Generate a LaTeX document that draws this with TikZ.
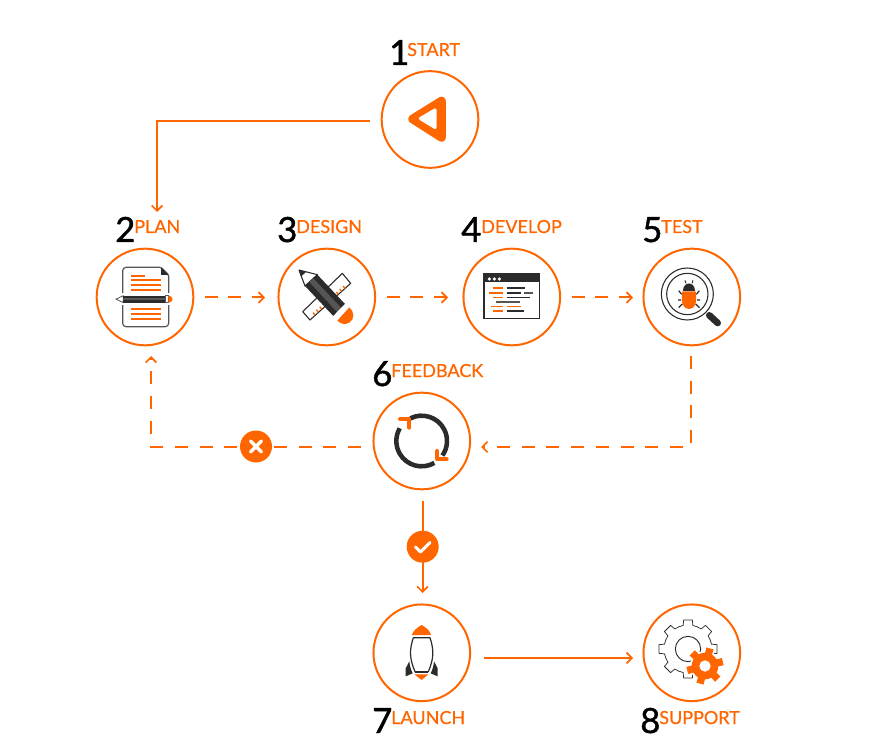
\documentclass[tikz,border=0pt]{standalone}
\usepackage{fontspec}
\setmainfont{Lato}
\newfontfamily\wordfont{Lato}[FakeBold=0.6]
\newfontfamily\numfont{Lato}[FakeBold=1.3]
\usetikzlibrary{arrows.meta}
\definecolor{org}{HTML}{FF6600}
\definecolor{drk}{HTML}{2B2B2B}
\definecolor{mid}{HTML}{555555}
\tikzset{
  px/.style={x=.75pt,y=-.75pt},
  zoomed/.style={x=.25pt,y=-.25pt},
  stepcircle/.style={circle,draw=org,line width=1.5pt,minimum size=72.5pt,inner sep=0pt,fill=white},
  numlbl/.style={anchor=base west,inner sep=0pt,text=black,font=\numfont\fontsize{26}{26}\selectfont},
  wordlbl/.style={anchor=base west,inner sep=0pt,text=org,font=\wordfont\fontsize{13.5}{14}\selectfont},
  solidconn/.style={draw=org,line width=1.5pt,-{Straight Barb[length=4pt,width=8pt,line width=1.3pt]}},
  dashconn/.style={solidconn,dash pattern=on 9.6pt off 8pt},
  dashlong/.style={solidconn,dash pattern=on 9.6pt off 8.96pt},
  badge/.style={circle,fill=org,minimum size=24pt,inner sep=0pt},
  ol/.style={line width=1.6pt,draw=org},
  cl/.style={line width=1pt},
}
\newcommand{\gearshape}[4]{% teeth, rin, rout, rotation
  (#4:#2)
  \foreach \ti in {1,...,#1}{
    -- ({#4+(\ti-1)*360/#1+0.24*360/#1}:#2)
    -- ({#4+(\ti-1)*360/#1+0.31*360/#1}:#3)
    -- ({#4+(\ti-1)*360/#1+0.69*360/#1}:#3)
    -- ({#4+(\ti-1)*360/#1+0.76*360/#1}:#2)
    -- ({#4+\ti*360/#1}:#2)
  } -- cycle
}
\begin{document}
\begin{tikzpicture}[px]
\useasboundingbox (0,0) rectangle (870,748);
\fill[white] (0,0) rectangle (870,748);

% step circles
\node[stepcircle] (start) at (430,119.5) {};
\node[stepcircle] (plan) at (145,297) {};
\node[stepcircle] (design) at (326.8,297) {};
\node[stepcircle] (develop) at (511.8,297) {};
\node[stepcircle] (test) at (691.8,297) {};
\node[stepcircle] (feedback) at (421.8,441) {};
\node[stepcircle] (launch) at (421.8,652.8) {};
\node[stepcircle] (support) at (691.8,652.8) {};

% labels
\node[numlbl] (n1) at (389,65) {1};
\node[wordlbl] (w1) at (407,56) {START};
\node[numlbl] (n2) at (115,242) {2};
\node[wordlbl] (w2) at (134,233) {PLAN};
\node[numlbl] (n3) at (277,242) {3};
\node[wordlbl] (w3) at (296,233) {DESIGN};
\node[numlbl] (n4) at (461,242) {4};
\node[wordlbl] (w4) at (481,233) {DEVELOP};
\node[numlbl] (n5) at (642,242) {5};
\node[wordlbl] (w5) at (661,233) {TEST};
\node[numlbl] (n6) at (372,386) {6};
\node[wordlbl] (w6) at (391,377) {FEEDBACK};
\node[numlbl] (n7) at (372,733) {7};
\node[wordlbl] (w7) at (391,724) {LAUNCH};
\node[numlbl] (n8) at (640,733) {8};
\node[wordlbl] (w8) at (659,724) {SUPPORT};

% connector way points
\coordinate (c1a) at (370,121);
\coordinate (c1b) at (157,121);
\coordinate (c1c) at (157,212);
\coordinate (c2a) at (205,297.5);
\coordinate (c2b) at (265,297.5);
\coordinate (c3a) at (387,297.5);
\coordinate (c3b) at (448,297.5);
\coordinate (c4a) at (572,297.5);
\coordinate (c4b) at (633,297.5);
\coordinate (c5a) at (691,356);
\coordinate (c5b) at (691,447);
\coordinate (c5c) at (481,447);
\coordinate (c6a) at (361,446.5);
\coordinate (c6b) at (151,446.5);
\coordinate (c6c) at (151,356);
\coordinate (c7a) at (422.5,501);
\coordinate (c7b) at (422.5,593);
\coordinate (c8a) at (484,658);
\coordinate (c8b) at (633,658);

\draw[solidconn] (c1a) -- (c1b) -- (c1c);
\draw[dashconn] (c2a) -- (c2b);
\draw[dashconn] (c3a) -- (c3b);
\draw[dashconn] (c4a) -- (c4b);
\draw[dashlong] (c5a) -- (c5b) -- (c5c);
\draw[dashlong] (c6a) -- (c6b) -- (c6c);
\draw[solidconn] (c7a) -- (c7b);
\draw[solidconn] (c8a) -- (c8b);

% badges
\node[badge] (nobadge) at (256,446.5) {};
\draw[white,line width=2.4pt,line cap=round] (250.5,441) -- (261.5,452) (261.5,441) -- (250.5,452);
\node[badge] (okbadge) at (422.7,546.7) {};
\draw[white,line width=2.2pt,line cap=round,line join=round] (415.5,547) -- (420.5,552) -- (430,542.5);

% START icon
\draw[org,fill=org,line width=6.5pt,line join=round] (412.6,119) -- (441.5,101) -- (441.5,137.4) -- cycle;
\draw[white,fill=white,line width=2.4pt,line join=round] (420.5,118.6) -- (435,110) -- (435,127.4) -- cycle;

% PLAN icon
\begin{scope}[shift={(80,200)},zoomed]
  \draw[mid,line width=.9pt,rounded corners=1pt,fill=white] (243,202) -- (134,202) -- (128,208) -- (128,374) -- (134,380) -- (260,380) -- (266,374) -- (266,225) -- cycle;
  \fill[drk] (243,202) -- (266,225) -- (243,225) -- cycle;
  \draw[org,ol] (152,227) -- (196,227);
  \foreach \yy in {241,255,270,327,341,356} \draw[org,ol] (152,\yy) -- (243,\yy);
  \fill[white] (120,280) rectangle (272,316);
  \draw[mid,line width=.6pt,fill=white] (130,287) -- (108,297.5) -- (130,308) -- cycle;
  \fill[drk] (130,287) rectangle (255,308);
  \fill[mid] (130,293) rectangle (255,301);
  \draw[mid,line width=.6pt] (255,287) rectangle (265,308);
  \fill[org] (265,287) arc (-90:90:13 and 10.5) -- cycle;
\end{scope}

% DESIGN icon
\begin{scope}[shift={(80,200)},zoomed]
  \draw[drk,line width=.8pt,fill=white,line join=round] (668,335) -- (690,360) -- (812,250) -- (787,220) -- cycle;
  \foreach \i/\j in {705/345,715/336,725/327}
    \draw[org,line width=1pt] (\i,\j) -- (\i-6,\j-7);
  \foreach \i/\j in {775/283,785/274,795/265}
    \draw[org,line width=1pt] (\i,\j) -- (\i-6,\j-7);
  \draw[drk,line width=.8pt,fill=white,line join=round] (657,210) -- (712,224) -- (675,258) -- cycle;
  \fill[drk] (657,210) -- (678,215.5) -- (663,230) -- cycle;
  \fill[drk] (675,258) -- (712,224) -- (795,312) -- (760,348) -- cycle;
  \fill[mid] (688,246) -- (700,235) -- (783,323) -- (771,336) -- cycle;
  \fill[white] (760,348) -- (795,312) -- (807,322) -- (772,360) -- cycle;
  \fill[org] (772,362) -- (808,322) .. controls (824,335) and (824,358) .. (808,368) .. controls (795,375) and (782,372) .. (772,362) -- cycle;
\end{scope}

% DEVELOP icon
\begin{scope}[shift={(450,200)},zoomed]
  \draw[drk,line width=1pt,fill=white] (102,222) rectangle (268,355);
  \fill[drk] (102,222) rectangle (268,247);
  \foreach \i in {118,133,148} \fill[white] (\i,237) circle (5.5);
  \foreach \a/\b/\yy in {130/160/264,116/160/279,130/160/293,123/160/320,170/212/320,130/160/333}
    \draw[org,cl] (\a,\yy) -- (\b,\yy);
  \foreach \a/\b/\yy in {170/225/264,170/212/279,170/240/293,170/223/333}
    \draw[drk,cl] (\a,\yy) -- (\b,\yy);
  \foreach \a/\b/\yy in {222/250/279,138/210/306}
    \draw[mid,cl] (\a,\yy) -- (\b,\yy);
\end{scope}

% TEST icon
\begin{scope}[shift={(450,200)},zoomed]
  \draw[drk,line width=5pt,line cap=round] (778,346) -- (803,369);
  \draw[drk,line width=.8pt,fill=white] (712,282) circle (78);
  \draw[drk,line width=.8pt] (712,282) circle (62);
  \fill[drk] (699,272) .. controls (699,242) and (735,242) .. (735,272) -- cycle;
  \fill[org] (697,274) -- (737,274) .. controls (742,310) and (735,327) .. (717,327) .. controls (699,327) and (692,310) .. (697,274) -- cycle;
  \draw[drk,line width=.7pt] (708,250) -- (705,241) (726,250) -- (729,241);
  \draw[drk,line width=.9pt] (695,283) -- (686,272) (739,283) -- (748,272)
    (693,300) -- (684,300) (741,300) -- (750,300)
    (697,312) -- (686,323) (737,312) -- (748,323);
\end{scope}

% FEEDBACK icon
\begin{scope}[shift={(230,355)},zoomed]
  \draw[drk,line width=3.4pt] (575,258) ++(-117:76) arc (-117:35:76);
  \draw[drk,line width=3.4pt] (575,258) ++(60:76) arc (60:210:76);
  \draw[org,line width=3pt,line cap=round,line join=round] (510,192) -- (538,192) -- (538,218);
  \draw[org,line width=3pt,line cap=round,line join=round] (622,288) -- (622,313) -- (650,313);
\end{scope}

% LAUNCH icon
\begin{scope}[shift={(360,600)},zoomed]
  \fill[org] (155,105) .. controls (160,92) and (172,82) .. (185,75) .. controls (198,82) and (210,92) .. (213,105) -- cycle;
  \draw[drk,line width=.9pt,line join=round] (160,113) -- (210,113) .. controls (222,150) and (222,175) .. (205,215) -- (165,215) .. controls (148,175) and (148,150) .. (160,113) -- cycle;
  \draw[drk,line width=1.2pt] (165,217) -- (205,217);
  \fill[drk] (148,184) -- (137,205) -- (137,229) -- (158,220) .. controls (152,208) and (149,196) .. (148,184) -- cycle;
  \fill[drk] (222,184) -- (233,205) -- (233,229) -- (212,220) .. controls (218,208) and (221,196) .. (222,184) -- cycle;
  \fill[org] (163,223) -- (205,223) -- (185,240) -- cycle;
\end{scope}

% SUPPORT icon
\begin{scope}[shift={(360,600)},zoomed]
  \begin{scope}[shift={(984,147)}]
    \draw[drk,line width=.55pt,line join=round] \gearshape{8}{72}{88}{-112.5};
    \draw[drk,line width=.7pt] (0,0) circle (38);
  \end{scope}
  \begin{scope}[shift={(1035,198)}]
    \fill[org,draw=white,line width=2.4pt,line join=round] \gearshape{6}{40}{56}{-104};
    \fill[org] \gearshape{6}{40}{56}{-104};
    \fill[white] (0,0) circle (17);
  \end{scope}
\end{scope}
\end{tikzpicture}
\end{document}
